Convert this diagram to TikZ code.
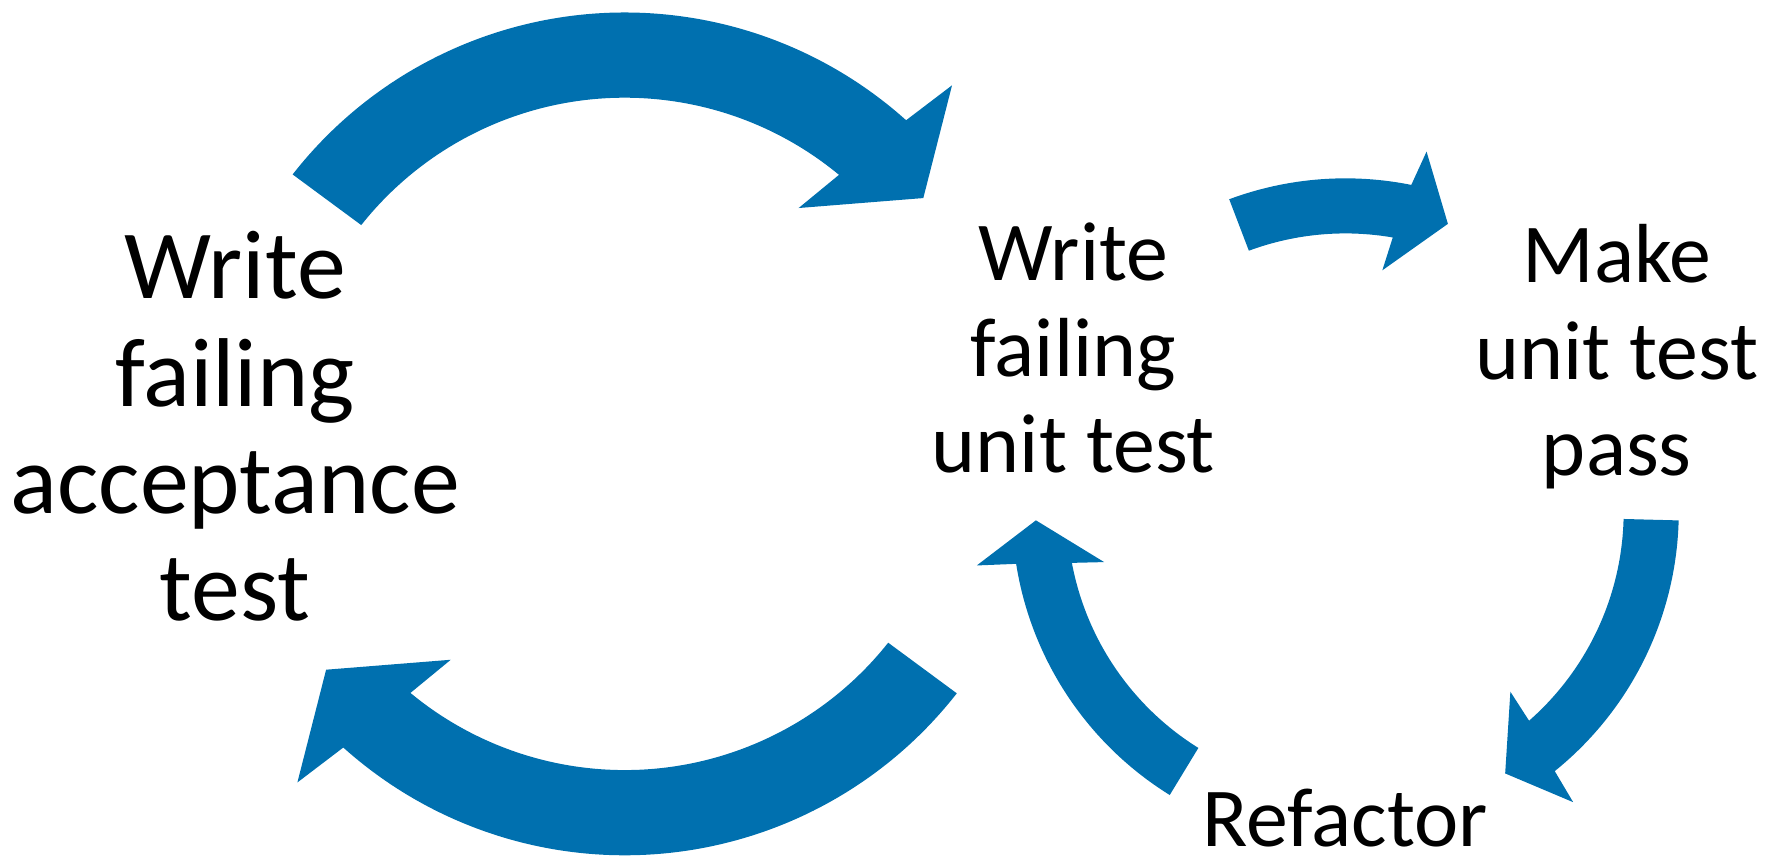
\documentclass[tikz,border=0pt]{standalone}
\usepackage{fontspec}
\setmainfont{Carlito}
\setlength{\tabcolsep}{0pt}
\definecolor{arrowblue}{RGB}{0,112,175}
\begin{document}
\begin{tikzpicture}[x=0.1mm,y=0.1mm,
  blockarrow/.style={fill=arrowblue,draw=none},
  bigtxt/.style={inner sep=0pt,anchor=base,font=\fontsize{24.5}{26.9}\selectfont},
  smalltxt/.style={inner sep=0pt,anchor=base,font=\fontsize{21}{24.1}\selectfont}]
\useasboundingbox (0,0) rectangle (1568,-756);

% text nodes
\node[bigtxt] (acc) at (207,-263) {\begin{tabular}[t]{c}Write\\failing\\acceptance\\test\end{tabular}};
\node[smalltxt] (wut) at (945,-247) {\begin{tabular}[t]{c}Write\\failing\\unit test\end{tabular}};
\node[smalltxt] (mut) at (1423.5,-249) {\begin{tabular}[t]{c}Make\\unit test\\pass\end{tabular}};
\node[smalltxt] (ref) at (1184.5,-745) {Refactor};

% big outer cycle (centre C1)
\foreach \rot in {0,180}{
\begin{scope}[shift={(550,-382)},rotate=\rot]
\fill[blockarrow] (142:371) arc[start angle=142, end angle=48.1, radius=371]
  -- (46.8:421) -- (38.3:335) -- (52.4:251) -- (50.4:296)
  arc[start angle=50.4, end angle=141.6, radius=296] -- cycle;
\end{scope}}

% small inner cycle (centre C2)
\begin{scope}[shift={(1184.5,-450.5)}]
\fill[blockarrow] (110.4:293.5) arc[start angle=110.4, end angle=78.6, radius=293.5]
  -- (77.3:325) -- (70.4:269) -- (81.3:215) -- (80.2:245)
  arc[start angle=80.2, end angle=110.3, radius=245] -- cycle;
\fill[blockarrow] (-1.5:293.5) arc[start angle=-1.5, end angle=-51.1, radius=293.5]
  -- (-51.9:325) -- (-58.6:270) -- (-47.5:215) -- (-48.7:245)
  arc[start angle=-48.7, end angle=-1.5, radius=245] -- cycle;
\fill[blockarrow] (238.2:293.5) arc[start angle=238.2, end angle=189, radius=293.5]
  -- (188.3:328) -- (181.6:272.6) -- (191.8:217) -- (190.6:245)
  arc[start angle=190.6, end angle=238.1, radius=245] -- cycle;
\end{scope}
\end{tikzpicture}
\end{document}
